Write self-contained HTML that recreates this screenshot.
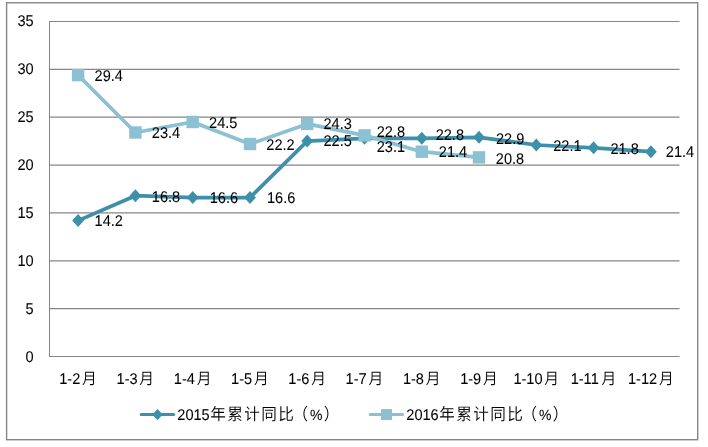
<!DOCTYPE html>
<html lang="zh-CN"><head><meta charset="utf-8"><title>2015年与2016年累计同比（%）</title>
<style>html,body{margin:0;padding:0;background:#fff;}body{width:708px;height:447px;overflow:hidden;}svg{display:block;}text{font-family:"Liberation Sans","Noto Sans CJK SC",sans-serif;font-size:14.57px;fill:#000;stroke:#000;stroke-width:0.06px;text-rendering:geometricPrecision;}.z{font-family:"Noto Sans CJK SC","Liberation Sans",sans-serif;font-size:15.6px;font-weight:350;stroke:none;}.p{font-size:14.0px;}.m{font-size:14.7px;}</style></head><body>
<svg width="708" height="447" viewBox="0 0 708 447">
<rect x="0" y="0" width="708" height="447" fill="#fff"/>
<rect x="6.6" y="2.75" width="691.1" height="436.95" fill="#fff" stroke="#868686" stroke-width="1.4"/>
<g id="grid">
<line x1="49.0" y1="356.5" x2="679.5" y2="356.5" stroke="#868686" stroke-width="1"/>
<line x1="49.0" y1="308.68" x2="679.5" y2="308.68" stroke="#868686" stroke-width="1.15"/>
<line x1="49.0" y1="260.8" x2="679.5" y2="260.8" stroke="#868686" stroke-width="1.15"/>
<line x1="49.0" y1="212.93" x2="679.5" y2="212.93" stroke="#868686" stroke-width="1.15"/>
<line x1="49.0" y1="165.05" x2="679.5" y2="165.05" stroke="#868686" stroke-width="1.15"/>
<line x1="49.0" y1="117.15" x2="679.5" y2="117.15" stroke="#868686" stroke-width="1.15"/>
<line x1="49.0" y1="69.3" x2="679.5" y2="69.3" stroke="#868686" stroke-width="1.15"/>
<line x1="49.0" y1="21.5" x2="679.5" y2="21.5" stroke="#868686" stroke-width="1"/>
<line x1="49.5" y1="21.0" x2="49.5" y2="357.0" stroke="#868686" stroke-width="1"/>
</g>
<g id="y-axis">
<text transform="translate(33.70 361.80) scale(1 1.064)" text-anchor="end">0</text>
<text transform="translate(33.70 313.98) scale(1 1.064)" text-anchor="end">5</text>
<text transform="translate(33.70 265.70) scale(1 1.064)" text-anchor="end">10</text>
<text transform="translate(33.70 217.83) scale(1 1.064)" text-anchor="end">15</text>
<text transform="translate(33.70 169.95) scale(1 1.064)" text-anchor="end">20</text>
<text transform="translate(33.70 122.05) scale(1 1.064)" text-anchor="end">25</text>
<text transform="translate(33.70 74.20) scale(1 1.064)" text-anchor="end">30</text>
<text transform="translate(33.70 26.40) scale(1 1.064)" text-anchor="end">35</text>
</g>
<g id="x-axis">
<text transform="translate(59.26 384.10) scale(1 1.064)">1-2<tspan class="z m" x="22.85">月</tspan></text>
<text transform="translate(116.53 384.10) scale(1 1.064)">1-3<tspan class="z m" x="22.85">月</tspan></text>
<text transform="translate(173.80 384.10) scale(1 1.064)">1-4<tspan class="z m" x="22.85">月</tspan></text>
<text transform="translate(231.08 384.10) scale(1 1.064)">1-5<tspan class="z m" x="22.85">月</tspan></text>
<text transform="translate(288.35 384.10) scale(1 1.064)">1-6<tspan class="z m" x="22.85">月</tspan></text>
<text transform="translate(345.62 384.10) scale(1 1.064)">1-7<tspan class="z m" x="22.85">月</tspan></text>
<text transform="translate(402.90 384.10) scale(1 1.064)">1-8<tspan class="z m" x="22.85">月</tspan></text>
<text transform="translate(460.17 384.10) scale(1 1.064)">1-9<tspan class="z m" x="22.85">月</tspan></text>
<text transform="translate(513.39 384.10) scale(1 1.064)">1-10<tspan class="z m" x="30.95">月</tspan></text>
<text transform="translate(570.66 384.10) scale(1 1.064)">1-11<tspan class="z m" x="30.95">月</tspan></text>
<text transform="translate(627.94 384.10) scale(1 1.064)">1-12<tspan class="z m" x="30.95">月</tspan></text>
</g>
<g id="series-2015">
<polyline points="78.1,220.6 135.4,195.7 192.7,197.6 250.0,197.6 307.2,141.1 364.5,138.3 421.8,138.3 479.0,137.3 536.3,145.0 593.6,147.8 650.9,151.7" fill="none" stroke="#3d90a9" stroke-width="3.7" stroke-linejoin="round" stroke-linecap="round"/>
<path d="M72.2 220.6L78.1 214.1L84.0 220.6L78.1 227.1Z" fill="#3d90a9"/>
<path d="M129.5 195.7L135.4 189.2L141.3 195.7L135.4 202.2Z" fill="#3d90a9"/>
<path d="M186.8 197.6L192.7 191.1L198.6 197.6L192.7 204.1Z" fill="#3d90a9"/>
<path d="M244.1 197.6L250.0 191.1L255.9 197.6L250.0 204.1Z" fill="#3d90a9"/>
<path d="M301.3 141.1L307.2 134.6L313.1 141.1L307.2 147.6Z" fill="#3d90a9"/>
<path d="M358.6 138.3L364.5 131.8L370.4 138.3L364.5 144.8Z" fill="#3d90a9"/>
<path d="M415.9 138.3L421.8 131.8L427.7 138.3L421.8 144.8Z" fill="#3d90a9"/>
<path d="M473.1 137.3L479.0 130.8L484.9 137.3L479.0 143.8Z" fill="#3d90a9"/>
<path d="M530.4 145.0L536.3 138.5L542.2 145.0L536.3 151.5Z" fill="#3d90a9"/>
<path d="M587.7 147.8L593.6 141.3L599.5 147.8L593.6 154.3Z" fill="#3d90a9"/>
<path d="M645.0 151.7L650.9 145.2L656.8 151.7L650.9 158.2Z" fill="#3d90a9"/>
</g>
<g id="series-2016">
<polyline points="78.1,75.1 135.4,132.5 192.7,122.0 250.0,144.0 307.2,123.9 364.5,135.4 421.8,151.7 479.0,157.4" fill="none" stroke="#8cc0d3" stroke-width="3.7" stroke-linejoin="round" stroke-linecap="round"/>
<rect x="71.9" y="68.9" width="12.4" height="12.4" fill="#8cc0d3"/>
<rect x="129.2" y="126.3" width="12.4" height="12.4" fill="#8cc0d3"/>
<rect x="186.5" y="115.8" width="12.4" height="12.4" fill="#8cc0d3"/>
<rect x="243.8" y="137.8" width="12.4" height="12.4" fill="#8cc0d3"/>
<rect x="301.0" y="117.7" width="12.4" height="12.4" fill="#8cc0d3"/>
<rect x="358.3" y="129.2" width="12.4" height="12.4" fill="#8cc0d3"/>
<rect x="415.6" y="145.5" width="12.4" height="12.4" fill="#8cc0d3"/>
<rect x="472.8" y="151.2" width="12.4" height="12.4" fill="#8cc0d3"/>
</g>
<g id="labels-2015">
<text transform="translate(94.54 226.39) scale(1 1.064)">14.2</text>
<text transform="translate(151.81 201.50) scale(1 1.064)">16.8</text>
<text transform="translate(209.68 203.21) scale(1 1.064)">16.6</text>
<text transform="translate(266.95 203.21) scale(1 1.064)">16.6</text>
<text transform="translate(323.43 146.34) scale(1 1.064)">22.5</text>
<text transform="translate(376.70 137.37) scale(1 1.064)">22.8</text>
<text transform="translate(435.67 140.07) scale(1 1.064)">22.8</text>
<text transform="translate(495.95 144.01) scale(1 1.064)">22.9</text>
<text transform="translate(553.22 151.27) scale(1 1.064)">22.1</text>
<text transform="translate(610.39 154.04) scale(1 1.064)">21.8</text>
<text transform="translate(665.86 157.47) scale(1 1.064)">21.4</text>
</g>
<g id="labels-2016">
<text transform="translate(94.54 80.90) scale(1 1.064)">29.4</text>
<text transform="translate(151.81 138.33) scale(1 1.064)">23.4</text>
<text transform="translate(209.08 128.40) scale(1 1.064)">24.5</text>
<text transform="translate(266.35 149.81) scale(1 1.064)">22.2</text>
<text transform="translate(323.43 129.11) scale(1 1.064)">24.3</text>
<text transform="translate(376.70 151.50) scale(1 1.064)">23.1</text>
<text transform="translate(438.87 156.67) scale(1 1.064)">21.4</text>
<text transform="translate(495.85 163.51) scale(1 1.064)">20.8</text>
</g>
<g id="legend">
<line x1="141.2" y1="414.6" x2="173.6" y2="414.6" stroke="#3d90a9" stroke-width="3" stroke-linecap="round"/>
<path d="M152.3 414.6L157.5 409.0L162.7 414.6L157.5 420.20000000000005Z" fill="#3d90a9"/>
<text transform="translate(177.30 420.00) scale(1 1.064)">2015<tspan class="z" x="33.0 50.0 67.0 84.0 101.0 115.2">年累计同比（</tspan><tspan class="p" x="132.6">%</tspan><tspan class="z" x="146.5">）</tspan></text>
<line x1="370.2" y1="414.6" x2="402.6" y2="414.6" stroke="#8cc0d3" stroke-width="3" stroke-linecap="round"/>
<rect x="381.0" y="409.1" width="11" height="11" fill="#8cc0d3"/>
<text transform="translate(406.30 420.00) scale(1 1.064)">2016<tspan class="z" x="33.0 50.0 67.0 84.0 101.0 115.2">年累计同比（</tspan><tspan class="p" x="132.6">%</tspan><tspan class="z" x="146.5">）</tspan></text>
</g>
</svg></body></html>
